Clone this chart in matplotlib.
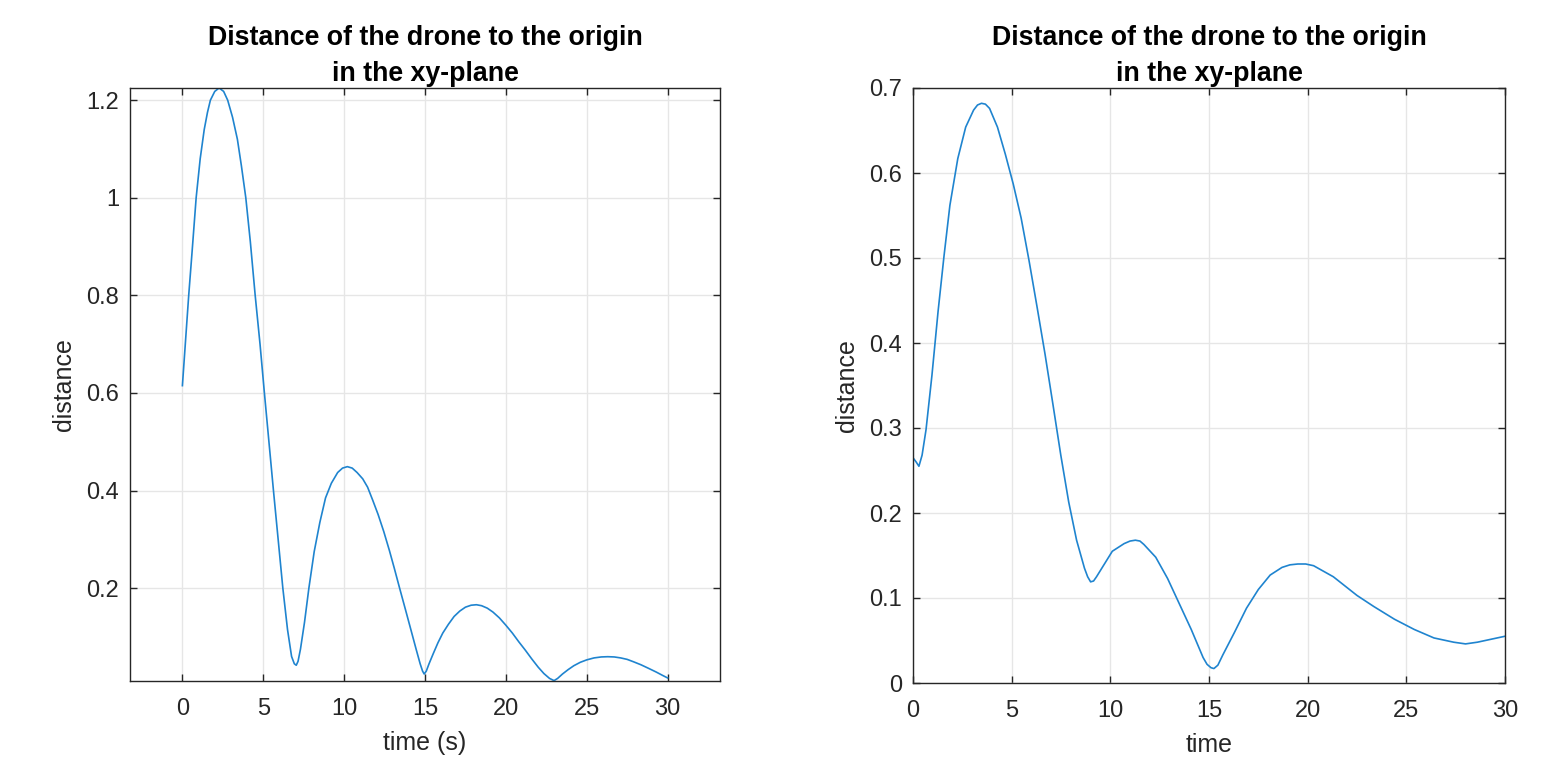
import matplotlib
matplotlib.use("Agg")
import matplotlib.pyplot as plt

# ---- data ----
t_left = [0, 0.2, 0.39, 0.6, 0.85, 1.1, 1.35, 1.55, 1.73, 2.0, 2.27, 2.55, 2.8, 3.1, 3.4,
          3.65, 3.92, 4.2, 4.5, 4.8, 5.07, 5.35, 5.63, 5.92, 6.21, 6.5, 6.75, 6.92, 7.04,
          7.15, 7.3, 7.55, 7.82, 8.15, 8.5, 8.85, 9.21, 9.6, 9.9, 10.2, 10.5, 10.8, 11.15,
          11.45, 11.77, 12.1, 12.45, 12.8, 13.1, 13.43, 13.8, 14.15, 14.45, 14.7, 14.85,
          14.95, 15.08, 15.25, 15.5, 15.8, 16.1, 16.45, 16.8, 17.15, 17.5, 17.85, 18.18,
          18.5, 18.85, 19.2, 19.6, 20.0, 20.4, 20.8, 21.2, 21.6, 22.0, 22.35, 22.7, 22.98,
          23.2, 23.5, 23.85, 24.2, 24.6, 25.0, 25.45, 25.9, 26.3, 26.7, 27.1, 27.5, 27.9,
          28.35, 28.8, 29.3, 29.7, 30.0]
d_left = [0.615, 0.71, 0.80, 0.89, 1.0, 1.08, 1.14, 1.175, 1.2, 1.218, 1.225, 1.218, 1.2,
          1.165, 1.12, 1.065, 1.0, 0.91, 0.8, 0.70, 0.6, 0.50, 0.4, 0.30, 0.2, 0.115, 0.06,
          0.045, 0.042, 0.05, 0.075, 0.13, 0.2, 0.275, 0.335, 0.385, 0.415, 0.437, 0.446,
          0.449, 0.446, 0.437, 0.424, 0.407, 0.38, 0.351, 0.316, 0.277, 0.241, 0.2, 0.155,
          0.112, 0.075, 0.045, 0.03, 0.024, 0.03, 0.045, 0.065, 0.088, 0.108, 0.126, 0.142,
          0.153, 0.161, 0.165, 0.166, 0.164, 0.159, 0.151, 0.139, 0.124, 0.108, 0.09, 0.073,
          0.055, 0.038, 0.025, 0.015, 0.0105, 0.015, 0.024, 0.033, 0.041, 0.048, 0.053,
          0.057, 0.059, 0.0595, 0.059, 0.057, 0.054, 0.049, 0.043, 0.036, 0.028, 0.021,
          0.016]

t_right = [0, 0.16, 0.30, 0.46, 0.66, 0.96, 1.27, 1.57, 1.87, 2.27, 2.67, 3.07, 3.27, 3.47,
           3.67, 3.88, 4.28, 4.68, 5.08, 5.48, 5.88, 6.29, 6.69, 7.09, 7.49, 7.89, 8.29,
           8.69, 8.85, 9.0, 9.15, 9.30, 9.70, 10.1, 10.7, 11.0, 11.27, 11.5, 11.7, 12.3,
           12.9, 13.5, 14.1, 14.7, 14.9, 15.1, 15.25, 15.45, 15.7, 16.3, 16.9, 17.5, 18.1,
           18.7, 19.1, 19.5, 19.9, 20.3, 21.3, 22.5, 23.35, 24.4, 25.4, 26.4, 27.4, 28.0,
           28.6, 29.4, 30.0]
d_right = [0.265, 0.260, 0.255, 0.268, 0.298, 0.362, 0.437, 0.502, 0.562, 0.617, 0.654,
           0.674, 0.680, 0.682, 0.681, 0.676, 0.654, 0.622, 0.587, 0.547, 0.497, 0.442,
           0.387, 0.328, 0.268, 0.213, 0.168, 0.135, 0.125, 0.119, 0.120, 0.125, 0.140,
           0.155, 0.164, 0.167, 0.168, 0.167, 0.163, 0.148, 0.123, 0.093, 0.063, 0.030,
           0.022, 0.018, 0.017, 0.021, 0.033, 0.060, 0.088, 0.110, 0.127, 0.136, 0.139,
           0.140, 0.140, 0.138, 0.125, 0.103, 0.090, 0.075, 0.063, 0.053, 0.048, 0.046,
           0.048, 0.052, 0.055]

title_text = "Distance of the drone to the origin\nin the xy-plane"
left_xticks = [0, 5, 10, 15, 20, 25, 30]
left_yticks = [0.2, 0.4, 0.6, 0.8, 1.0, 1.2]
left_yticklabels = ["0.2", "0.4", "0.6", "0.8", "1", "1.2"]
right_xticks = [0, 5, 10, 15, 20, 25, 30]
right_yticks = [0, 0.1, 0.2, 0.3, 0.4, 0.5, 0.6, 0.7]
right_yticklabels = ["0", "0.1", "0.2", "0.3", "0.4", "0.5", "0.6", "0.7"]

# ---- figure ----
plt.rcParams['font.family'] = ['Liberation Sans', 'DejaVu Sans']
W, H = 1556, 761
fig = plt.figure(figsize=(W / 100, H / 100), dpi=100)

line_color = '#1f84cf'
frame_color = '#262626'
grid_color = '#e6e6e6'


def axes_px(x0, y0, x1, y1):
    return fig.add_axes([x0 / W, 1 - y1 / H, (x1 - x0) / W, (y1 - y0) / H])


def style(ax):
    ax.set_axisbelow(True)
    ax.grid(True, color=grid_color, linewidth=1.0)
    for s in ax.spines.values():
        s.set_color(frame_color)
        s.set_linewidth(1.0)
    ax.tick_params(direction='in', length=5, width=1.0, colors=frame_color,
                   labelsize=17, top=True, right=True)
    ax.tick_params(axis='x', pad=12)
    ax.tick_params(axis='y', pad=8)


def decorate(ax, xlabel):
    ax.set_title(title_text, fontsize=19.3, fontweight='bold', pad=5, linespacing=1.5)
    ax.set_xlabel(xlabel, fontsize=18, color=frame_color, labelpad=8)
    ax.set_ylabel("distance", fontsize=18, color=frame_color, labelpad=7)


ax1 = axes_px(130, 88, 720, 681)
ax1.plot(t_left, d_left, color=line_color, linewidth=1.2)
ax1.set_xlim(-3.24, 33.24)
ax1.set_ylim(0.0097, 1.225)
ax1.set_xticks(left_xticks)
ax1.set_yticks(left_yticks)
ax1.set_yticklabels(left_yticklabels)
style(ax1)
decorate(ax1, "time (s)")

ax2 = axes_px(913, 88, 1505, 683)
ax2.plot(t_right, d_right, color=line_color, linewidth=1.2)
ax2.set_xlim(0, 30)
ax2.set_ylim(0, 0.7)
ax2.set_xticks(right_xticks)
ax2.set_yticks(right_yticks)
ax2.set_yticklabels(right_yticklabels)
style(ax2)
decorate(ax2, "time")

fig.savefig("out.png", dpi=100, facecolor='white')
